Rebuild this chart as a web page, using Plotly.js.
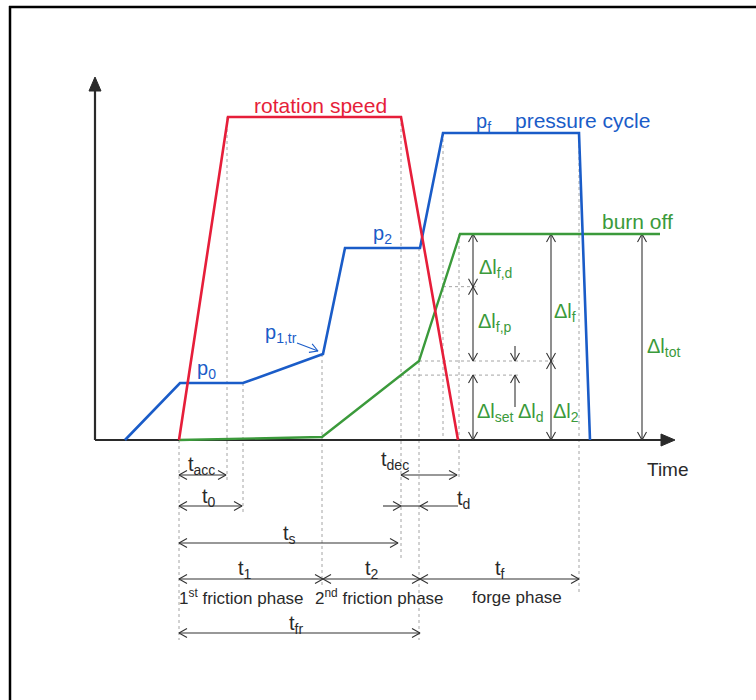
<!DOCTYPE html>
<html><head><meta charset="utf-8">
<script src="https://cdn.plot.ly/plotly-3.0.1.min.js"></script>
<style>body{margin:0;background:#fff}#chart{width:756px;height:700px}</style>
</head><body><div id="chart"></div>
<script>
// ---- schematic data (time units, level above the time axis) ----
const rotationTime  = [179, 228, 401, 458];
const rotationValue = [0, 323, 323, 0];
const pressureTime  = [125, 180, 243, 323, 345, 420, 443, 579, 590];
const pressureValue = [0, 57, 57, 86, 192, 192, 307, 307, 0];
const burnTime  = [179, 322, 419, 460, 660];
const burnValue = [0, 3, 79, 206, 206];

const RED = '#e61e3a', BLUE = '#1a5cc8', GREEN = '#3b9a3b', INK = '#2a2a2a';
const FONT = 'Liberation Sans, Arial, sans-serif';

function interp(xs, ys, x) {
  for (let i = 0; i < xs.length - 1; i++) {
    if (x >= xs[i] && x <= xs[i + 1]) return ys[i] + (ys[i + 1] - ys[i]) * (x - xs[i]) / (xs[i + 1] - xs[i]);
  }
  return ys[ys.length - 1];
}

// key instants derived from the curves
const tStart = rotationTime[0], tAcc = rotationTime[1], tDec = rotationTime[2], tStop = rotationTime[3];
const t0 = pressureTime[2], t1 = pressureTime[3], tFr = pressureTime[5], tPf = pressureTime[6], tF = pressureTime[7];
const tBurnEnd = burnTime[3];
const lSet = interp(burnTime, burnValue, tDec);
const lFp = interp(burnTime, burnValue, tPf);
const l2 = burnValue[2], lTot = burnValue[3];

// ---- arrow helpers (1 axis unit = 1 px in both directions) ----
function makeArrows() { return {x: [], y: []}; }
function head(a, tx, ty, fx, fy) {
  const dx = tx - fx, dy = ty - fy, L = Math.hypot(dx, dy) || 1;
  const ux = dx / L, uy = dy / L, len = 8, w = 4.5;
  a.x.push(tx - len * ux - w * uy, tx, tx - len * ux + w * uy, null);
  a.y.push(ty - len * uy + w * ux, ty, ty - len * uy - w * ux, null);
}
function arrow(a, x0, y0, x1, y1, h0, h1) {
  a.x.push(x0, x1, null); a.y.push(y0, y1, null);
  if (h0) head(a, x0, y0, x1, y1);
  if (h1) head(a, x1, y1, x0, y0);
}
function seg(a, x0, y0, x1, y1) { a.x.push(x0, x1, null); a.y.push(y0, y1, null); }

// dimension arrows
const dim = makeArrows();
// burn-off (vertical)
arrow(dim, 473, lTot, 473, lFp, true, true);
arrow(dim, 473, lFp, 473, l2, true, true);
arrow(dim, 473, lSet, 473, 0, true, true);
arrow(dim, 515, l2 + 15, 515, l2, false, true);
arrow(dim, 515, lSet - 32, 515, lSet, false, true);
arrow(dim, 551, lTot, 551, l2, true, true);
arrow(dim, 551, l2, 551, 0, true, true);
arrow(dim, 642, lTot, 642, 0, true, true);
// times (horizontal)
arrow(dim, tStart, -35, tAcc - 2, -35, true, true);
arrow(dim, tStart, -66, t0 - 1, -66, true, true);
arrow(dim, tDec, -35, tStop - 1, -35, true, true);
arrow(dim, tDec - 18, -66, tDec, -66, false, true);
seg(dim, tDec, -66, tFr, -66);
arrow(dim, tStop, -66, tFr, -66, false, true);
arrow(dim, tStart, -103, tDec - 3, -103, true, true);
arrow(dim, tStart, -139, t1, -139, true, true);
arrow(dim, t1, -139, tFr, -139, true, true);
arrow(dim, tFr, -139, tF, -139, true, true);
arrow(dim, tStart, -193, tFr, -193, true, true);

// p1,tr pointer
const ptr = makeArrows();
arrow(ptr, 297, 97, 318, 89, false, true);

// dotted guide lines
const guide = makeArrows();
seg(guide, tStart, 0, tStart, -200);
seg(guide, tAcc - 1, rotationValue[1], tAcc - 1, -43);
seg(guide, t0, pressureValue[2], t0, -73);
seg(guide, t1 - 1, pressureValue[3], t1 - 1, -147);
seg(guide, tDec, rotationValue[2], tDec, -118);
seg(guide, tFr - 1, pressureValue[5], tFr - 1, -200);
seg(guide, tPf, pressureValue[6], tPf, 0);
seg(guide, tBurnEnd - 1, burnValue[3], tBurnEnd - 1, -38);
seg(guide, tF, pressureValue[7], tF, -152);
seg(guide, tPf, lFp, 476, lFp);
seg(guide, tFr - 1, l2, 557, l2);
seg(guide, tDec, lSet, 520, lSet);

// axes
const axisLines = makeArrows();
seg(axisLines, 95, 0, 95, 352);
seg(axisLines, 95, 0, 664, 0);

const traces = [
  {x: guide.x, y: guide.y, mode: 'lines', line: {color: '#9a9a9a', width: 0.9, dash: 'dot'}, hoverinfo: 'skip'},
  {x: axisLines.x, y: axisLines.y, mode: 'lines', line: {color: INK, width: 2.2}, hoverinfo: 'skip'},
  {x: [89, 95, 101, 89], y: [349, 363, 349, 349], mode: 'lines', fill: 'toself', fillcolor: INK, line: {color: INK, width: 1}, hoverinfo: 'skip'},
  {x: [661, 675, 661, 661], y: [6, 0, -6, 6], mode: 'lines', fill: 'toself', fillcolor: INK, line: {color: INK, width: 1}, hoverinfo: 'skip'},
  {x: dim.x, y: dim.y, mode: 'lines', line: {color: '#333', width: 1.1}, hoverinfo: 'skip'},
  {x: ptr.x, y: ptr.y, mode: 'lines', line: {color: BLUE, width: 1.1}, hoverinfo: 'skip'},
  {x: burnTime, y: burnValue, mode: 'lines', line: {color: GREEN, width: 2.4}, name: 'burn off'},
  {x: pressureTime, y: pressureValue, mode: 'lines', line: {color: BLUE, width: 2.6}, name: 'pressure cycle'},
  {x: rotationTime, y: rotationValue, mode: 'lines', line: {color: RED, width: 2.6}, name: 'rotation speed'}
];

function lab(text, x, y, color, size, xanchor) {
  return {text: text, x: x, y: y, xref: 'x', yref: 'y', showarrow: false,
    xanchor: xanchor || 'center', yanchor: 'middle', font: {family: FONT, size: size || 20, color: color}};
}

const annotations = [
  lab('rotation speed', 320, 335, RED, 21),
  lab('p<sub>f</sub>', 483, 318, BLUE, 20),
  lab('pressure cycle', 582, 320, BLUE, 21),
  lab('p<sub>2</sub>', 382, 206, BLUE, 20),
  lab('p<sub>1,tr</sub>', 281, 107, BLUE, 20),
  lab('p<sub>0</sub>', 206, 71, BLUE, 20),
  lab('burn off', 637, 219, GREEN, 21),
  lab('Δl<sub>f,d</sub>', 477, 172, GREEN, 20, 'left'),
  lab('Δl<sub>f,p</sub>', 476, 118, GREEN, 20, 'left'),
  lab('Δl<sub>f</sub>', 552, 128, GREEN, 20, 'left'),
  lab('Δl<sub>set</sub>', 475, 28, GREEN, 20, 'left'),
  lab('Δl<sub>d</sub>', 516, 28, GREEN, 20, 'left'),
  lab('Δl<sub>2</sub>', 551, 28, GREEN, 20, 'left'),
  lab('Δl<sub>tot</sub>', 645, 93, GREEN, 20, 'left'),
  lab('Time', 668, -29, INK, 19),
  lab('t<sub>acc</sub>', 201, -25, INK, 20),
  lab('t<sub>0</sub>', 209, -57, INK, 20),
  lab('t<sub>dec</sub>', 395, -20, INK, 20),
  lab('t<sub>d</sub>', 463, -59, INK, 20),
  lab('t<sub>s</sub>', 289, -94, INK, 20),
  lab('t<sub>1</sub>', 245, -129, INK, 20),
  lab('t<sub>2</sub>', 372, -129, INK, 20),
  lab('t<sub>f</sub>', 500, -129, INK, 20),
  lab('1<sup>st</sup> friction phase', 241, -157, INK, 17),
  lab('2<sup>nd</sup> friction phase', 379, -157, INK, 17),
  lab('forge phase', 517, -157, INK, 17),
  lab('t<sub>fr</sub>', 296, -184, INK, 20)
];

const layout = {
  width: 756, height: 700,
  margin: {l: 0, r: 0, t: 0, b: 0},
  paper_bgcolor: '#fff', plot_bgcolor: '#fff',
  showlegend: false,
  xaxis: {range: [0, 756], visible: false, fixedrange: true},
  yaxis: {range: [-260, 440], visible: false, fixedrange: true},
  shapes: [
    {type: 'line', xref: 'x', yref: 'y', x0: 9, x1: 756, y0: 433, y1: 433, line: {color: '#000', width: 2.5}},
    {type: 'line', xref: 'x', yref: 'y', x0: 10, x1: 10, y0: 434, y1: -260, line: {color: '#000', width: 2.5}}
  ],
  annotations: annotations,
  font: {family: FONT}
};

Plotly.newPlot('chart', traces, layout, {staticPlot: true, displayModeBar: false});
</script>
</body></html>
